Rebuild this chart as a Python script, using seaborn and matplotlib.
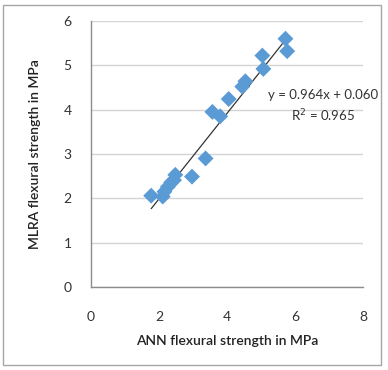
import numpy as np
import pandas as pd
import matplotlib
matplotlib.use("Agg")
import matplotlib.pyplot as plt
import seaborn as sns

# values
ann = [1.77, 2.11, 2.16, 2.26, 2.36, 2.44, 2.48, 2.97, 3.37, 3.57,
       3.80, 4.05, 4.45, 4.54, 5.04, 5.07, 5.72, 5.77]
mlra = [2.06, 2.04, 2.15, 2.26, 2.36, 2.41, 2.53, 2.49, 2.90, 3.95,
        3.85, 4.24, 4.52, 4.64, 5.22, 4.92, 5.60, 5.32]
slope = 0.964
intercept = 0.060
r2 = 0.965
x_ticks = [0, 2, 4, 6, 8]
y_ticks = [0, 1, 2, 3, 4, 5, 6]

data = pd.DataFrame({"ann": ann, "mlra": mlra})
fit_x = np.array([min(ann), max(ann)])
fit = pd.DataFrame({"x": fit_x, "y": slope * fit_x + intercept})

sns.set_style("white")
plt.rcParams["font.family"] = ["Lato", "DejaVu Sans"]

fig = plt.figure(figsize=(3.88, 3.70), dpi=100)
ax = fig.add_axes([91 / 388, (370 - 287) / 370, (363 - 91) / 388, (287 - 21) / 370])

ax.grid(axis="y", color="#d4d4d4", linewidth=1)
ax.set_axisbelow(True)

sns.lineplot(x="x", y="y", data=fit, color="#333333", linewidth=0.9, ax=ax, zorder=2)
sns.scatterplot(x="ann", y="mlra", data=data, marker="D", s=66, color="#5b9bd5",
                edgecolor="none", ax=ax, zorder=3)

ax.set_xlim(0, 8)
ax.set_ylim(0, 6)
ax.set_xticks(x_ticks)
ax.set_yticks(y_ticks)
ax.tick_params(axis="both", labelsize=10, colors="#8c8c8c", labelcolor="#333333",
               length=4, width=1, direction="out")
ax.tick_params(axis="x", pad=13)
ax.tick_params(axis="y", pad=10)
for side in ["top", "right"]:
    ax.spines[side].set_visible(False)
for side in ["left", "bottom"]:
    ax.spines[side].set_color("#8c8c8c")
    ax.spines[side].set_linewidth(1)

ax.set_xlabel("ANN flexural strength in MPa", fontsize=10, fontweight="semibold", color="#222222", labelpad=9)
ax.set_ylabel("MLRA flexural strength in MPa", fontsize=10, fontweight="semibold", color="#222222", labelpad=16)

ax.text(6.84, 4.07, f"y = {slope:.3f}x + {intercept:.3f}\nR$^2$ = {r2:.3f}",
        fontsize=9.5, color="#333333", ha="center", va="center", linespacing=1.4)

border = plt.Rectangle((3 / 388, 5 / 370), (381 - 3) / 388, (365 - 5) / 370,
                       transform=fig.transFigure, fill=False, edgecolor="#a6a6a6", linewidth=1)
fig.patches.append(border)

fig.savefig("out.png", dpi=100)
